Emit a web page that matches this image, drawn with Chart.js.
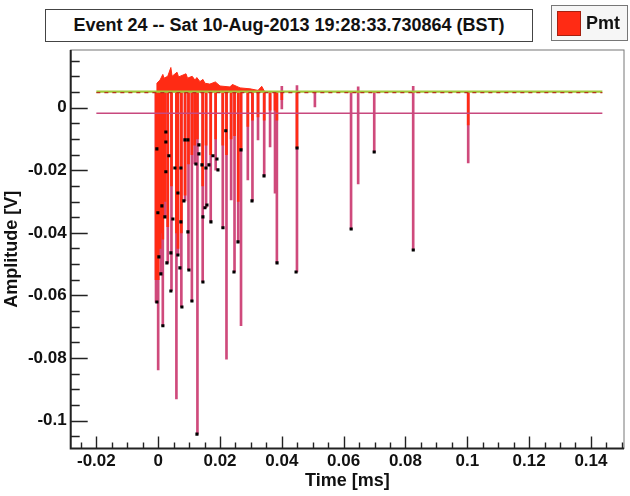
<!DOCTYPE html>
<html>
<head>
<meta charset="utf-8">
<script src="https://cdn.jsdelivr.net/npm/chart.js@4/dist/chart.umd.min.js"></script>
<style>
  body { margin: 0; background: #fff; }
  #wrap { position: relative; width: 630px; height: 496px; background: #fff; }
  #plot { position: absolute; left: 0; top: 0; width: 630px; height: 496px; }
  #title {
    position: absolute; left: 45px; top: 9px; width: 486px; height: 31px;
    border: 1px solid #444; background: #fff;
    font: bold 18px "Liberation Sans", Arial, sans-serif; color: #111;
    text-align: center; line-height: 31px; white-space: nowrap;
  }
  #legend {
    position: absolute; left: 551px; top: 5px; width: 75px; height: 34px;
    border: 1px solid #777; background: #f6f6f6;
    font: bold 18px "Liberation Sans", Arial, sans-serif; color: #111;
    line-height: 34px; white-space: nowrap;
  }
  #legend .sw {
    position: absolute; left: 5px; top: 5px; width: 22px; height: 23px;
    background: #ff2b14; border: 1px solid #a52010;
  }
  #legend .lbl { position: absolute; left: 34px; top: 0; }
</style>
</head>
<body>
<div id="wrap">
  <div id="plot"><canvas id="chart"></canvas></div>
  <div id="title">Event 24 -- Sat 10-Aug-2013 19:28:33.730864 (BST)</div>
  <div id="legend"><span class="sw"></span><span class="lbl">Pmt</span></div>
</div>
<script>
// waveform pulses: time [ms], minimum [V], lower end of the red part [V]
const spikeTime = [-0.0007, 0.0000, 0.0006, 0.0010, 0.0015, 0.0022, 0.0031, 0.0043, 0.0059, 0.0064,
  0.0075, 0.0087, 0.0098, 0.0109, 0.0118, 0.0127, 0.0144, 0.0155, 0.0170, 0.0186,
  0.0209, 0.0221, 0.0236, 0.0247, 0.0259, 0.0268, 0.0290, 0.0305, 0.0323, 0.0343,
  0.0362, 0.0378, 0.0384, 0.0400, 0.0449, 0.0507, 0.0624, 0.0647, 0.0699, 0.0825,
  0.1003];
const spikeMin = [-0.0622, -0.0838, -0.0478, -0.0532, -0.0697, -0.0350, -0.0497, -0.0585, -0.0931, -0.0471,
  -0.0637, -0.0298, -0.0518, -0.0618, -0.0180, -0.1043, -0.0557, -0.0320, -0.0366, -0.0200,
  -0.0385, -0.0804, -0.0295, -0.0525, -0.0430, -0.0697, -0.0231, -0.0298, -0.0103, -0.0218,
  -0.0126, -0.0273, -0.0497, -0.0004, -0.0525, 0.0002, -0.0388, -0.0244, -0.0142, -0.0455,
  -0.0177];
const spikeRed = [-0.0550, -0.0550, -0.0450, -0.0400, -0.0420, -0.0300, -0.0380, -0.0250, -0.0400, -0.0450,
  -0.0400, -0.0280, -0.0180, -0.0150, -0.0120, -0.0100, -0.0250, -0.0120, -0.0150, -0.0100,
  -0.0120, -0.0150, -0.0100, -0.0090, -0.0300, -0.0135, -0.0060, -0.0040, -0.0030, -0.0040,
  -0.0008, -0.0008, -0.0040, 0.0025, -0.0129, 0.0048, 0.0048, 0.0048, 0.0048, 0.0048,
  -0.0055];

// small upward tips above the baseline
const tipTime = [0.0400, 0.0449, 0.0647, 0.0825];
const tipAmp = [0.0068, 0.0070, 0.0066, 0.0068];

// positive overshoot of the red waveform at the start of the event
const envTime = [-0.0006, -0.0004, 0.0006, 0.0015, 0.0019, 0.0031, 0.0041, 0.0045, 0.0061, 0.0066,
  0.0090, 0.0095, 0.0110, 0.0119, 0.0125, 0.0135, 0.0145, 0.0151, 0.0167, 0.0185,
  0.0200, 0.0232, 0.0240, 0.0265, 0.0297, 0.0323, 0.0335, 0.0345];
const envAmp = [0.0050, 0.0078, 0.0088, 0.0106, 0.0094, 0.0100, 0.0128, 0.0100, 0.0113, 0.0098,
  0.0108, 0.0094, 0.0100, 0.0088, 0.0096, 0.0083, 0.0090, 0.0078, 0.0075, 0.0082,
  0.0069, 0.0066, 0.0074, 0.0063, 0.0060, 0.0055, 0.0068, 0.0050];

// found peaks (black squares)
const peakTime = [-0.00042, 0.00152, 0.00768, 0.01092, 0.01448, 0.00411, 0.00994, 0.00703, 0.00087, 0.00023,
  0.00282, 0.00411, 0.00638, 0.02096, 0.01707, 0.01448, 0.01513, 0.01578, 0.00962, 0.00476,
  0.00735, 0.02582, 0.03035, 0.02452, 0.03845, 0.04461, 0.01254, 0.00249, 0.00249, -0.00042,
  0.00347, 0.00249, 0.00541, 0.00735, 0.00865, 0.00962, 0.01318, 0.01318, 0.01221, 0.01416,
  0.01545, 0.01642, 0.01772, 0.01902, 0.01934, 0.02186, 0.02679, 0.03424, 0.00638, 0.00832,
  -0.0001, 0.0012, 0.00217, 0.04493, 0.06243, 0.06988, 0.08252];
const peakAmp = [-0.0621, -0.0697, -0.0637, -0.0618, -0.0557, -0.0586, -0.0519, -0.0512, -0.0531, -0.0477,
  -0.0496, -0.0464, -0.0471, -0.0384, -0.0365, -0.0349, -0.0320, -0.0311, -0.0397, -0.0356,
  -0.0365, -0.0429, -0.0298, -0.0525, -0.0496, -0.0525, -0.1043, -0.0078, -0.0110, -0.0132,
  -0.0154, -0.0205, -0.0193, -0.0193, -0.0103, -0.0103, -0.0119, -0.0148, -0.0180, -0.0183,
  -0.0193, -0.0183, -0.0154, -0.0164, -0.0199, -0.0074, -0.0135, -0.0218, -0.0273, -0.0298,
  -0.0336, -0.0314, -0.0349, -0.0129, -0.0388, -0.0142, -0.0455];

// horizontal reference lines
const lineTime = [-0.02, 0.1437];
const baseLevel = 0.0048;
const greenLevel = 0.0051;
const pinkLevel = -0.0018;

const xRange = [-0.0283, 0.1507];
const yRange = [-0.1089, 0.0184];
const tickStep = 0.005;
const labelStep = 0.02;

function isMajor(v) {
  const r = v / labelStep;
  return Math.abs(r - Math.round(r)) < 1e-6;
}
function fmt(v) {
  return String(Number(v.toFixed(3)));
}
function buildTicks(scale) {
  const ticks = [];
  for (let k = Math.ceil(scale.min / tickStep - 1e-9); k * tickStep <= scale.max + 1e-9; k++) {
    ticks.push({ value: Number((k * tickStep).toFixed(4)) });
  }
  scale.ticks = ticks;
}

const hline = (lvl) => lineTime.map(t => ({ x: t, y: lvl }));

// ticks drawn inside the frame, ROOT style
const frameTicks = {
  id: 'frameTicks',
  afterDraw(chart) {
    const { ctx, chartArea: a, scales: { x, y } } = chart;
    ctx.save();
    ctx.strokeStyle = '#777';
    ctx.lineWidth = 1;
    ctx.strokeRect(a.left, a.top, a.right - a.left, a.bottom - a.top);
    ctx.strokeStyle = '#222';
    ctx.lineWidth = 2;
    ctx.beginPath();
    ctx.moveTo(a.left, a.top);
    ctx.lineTo(a.left, a.bottom);
    ctx.lineTo(a.right, a.bottom);
    ctx.stroke();
    ctx.lineWidth = 1.4;
    ctx.beginPath();
    x.ticks.forEach(t => {
      const px = Math.round(x.getPixelForValue(t.value)) + 0.5;
      ctx.moveTo(px, a.bottom);
      ctx.lineTo(px, a.bottom - (isMajor(t.value) ? 12 : 6));
    });
    y.ticks.forEach(t => {
      const py = Math.round(y.getPixelForValue(t.value)) + 0.5;
      ctx.moveTo(a.left, py);
      ctx.lineTo(a.left + (isMajor(t.value) ? 17 : 9), py);
    });
    ctx.stroke();
    ctx.restore();
  }
};

const axisFont = { family: '"Liberation Sans", Arial, sans-serif', weight: 'bold', size: 17 };
const titleFont = { family: '"Liberation Sans", Arial, sans-serif', weight: 'bold', size: 18 };

new Chart(document.getElementById('chart'), {
  type: 'bar',
  data: {
    datasets: [
      {
        type: 'scatter', label: 'peaks', order: 0,
        data: peakTime.map((t, i) => ({ x: t, y: peakAmp[i] })),
        pointStyle: 'rect', pointRadius: 2.2, pointBackgroundColor: '#000', pointBorderWidth: 0
      },
      {
        type: 'line', label: 'baseline', order: 1,
        data: hline(baseLevel), borderColor: '#b4361c', borderWidth: 1.2, borderDash: [4, 4],
        pointRadius: 0, fill: false
      },
      {
        type: 'line', label: 'green', order: 2,
        data: hline(greenLevel), borderColor: '#a2c83a', borderWidth: 2.2, pointRadius: 0, fill: false
      },
      {
        type: 'line', label: 'pink', order: 3,
        data: hline(pinkLevel), borderColor: '#c8487e', borderWidth: 1.6, pointRadius: 0, fill: false
      },
      {
        type: 'bar', label: 'Pmt', order: 4, grouped: false,
        data: spikeTime.map((t, i) => ({ x: t, y: [baseLevel, spikeRed[i]] })),
        backgroundColor: '#ff2b14', barThickness: 2
      },
      {
        type: 'line', label: 'overshoot', order: 5,
        data: envTime.map((t, i) => ({ x: t, y: envAmp[i] })),
        borderColor: '#ff2b14', backgroundColor: '#ff2b14', borderWidth: 1,
        pointRadius: 0, tension: 0, fill: { value: baseLevel }
      },
      {
        type: 'bar', label: 'pulses', order: 6, grouped: false,
        data: spikeTime.map((t, i) => ({ x: t, y: [baseLevel, spikeMin[i]] }))
          .concat(tipTime.map((t, i) => ({ x: t, y: [baseLevel, tipAmp[i]] }))),
        backgroundColor: '#cf4a7c', barThickness: 2
      }
    ]
  },
  options: {
    responsive: true,
    maintainAspectRatio: false,
    animation: false,
    events: [],
    layout: { padding: { left: 0, right: 6, top: 50, bottom: 0 } },
    plugins: { legend: { display: false }, tooltip: { enabled: false } },
    scales: {
      x: {
        type: 'linear', offset: false, min: xRange[0], max: xRange[1],
        afterBuildTicks: buildTicks,
        afterFit: (s) => { s.height = 47.5; },
        grid: { display: false, drawTicks: false },
        border: { display: false },
        ticks: {
          autoSkip: false, maxRotation: 0, padding: 3, color: '#111', font: axisFont,
          callback: (v) => isMajor(v) ? fmt(v) : ''
        },
        title: { display: true, text: 'Time [ms]', color: '#111', font: titleFont, padding: { top: 0, bottom: 4 } }
      },
      y: {
        type: 'linear', min: yRange[0], max: yRange[1],
        afterBuildTicks: buildTicks,
        afterFit: (s) => { s.width = 70.7; },
        grid: { display: false, drawTicks: false },
        border: { display: false },
        ticks: {
          autoSkip: false, padding: 4, color: '#111', font: axisFont,
          callback: (v) => isMajor(v) ? fmt(v) : ''
        },
        title: { display: true, text: 'Amplitude [V]', color: '#111', font: titleFont, padding: { top: 1, bottom: 0 } }
      }
    }
  },
  plugins: [frameTicks]
});
</script>
</body>
</html>
